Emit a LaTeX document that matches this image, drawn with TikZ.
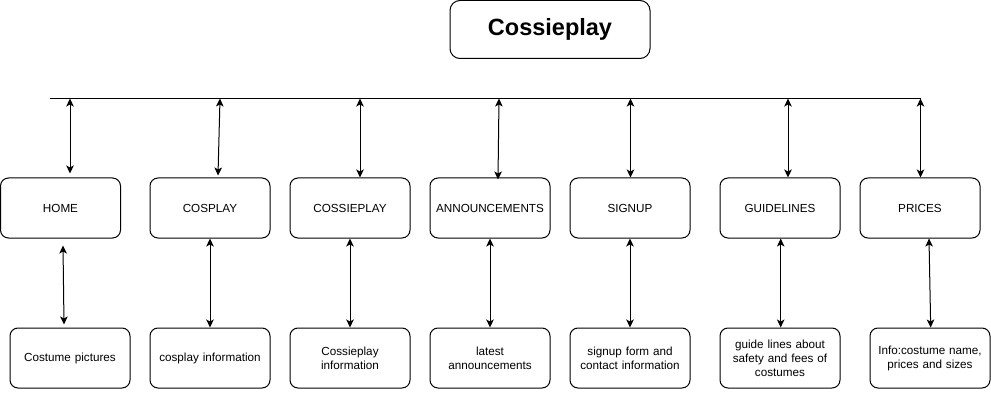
\documentclass[tikz,border=0pt]{standalone}
\usepackage{fontspec}
\setmainfont{Liberation Sans}
\usetikzlibrary{arrows.meta}
\begin{document}
\begin{tikzpicture}[x=1pt,y=-1pt,
  box/.style={draw, rounded corners=8pt, line width=1pt, minimum width=120pt, minimum height=60pt,
    inner sep=2pt, text width=116pt, align=center, font=\fontsize{11.7}{14}\selectfont},
  titlebox/.style={draw, rounded corners=10pt, line width=1pt, minimum width=200pt, minimum height=58pt,
    font=\fontsize{23.5}{28}\selectfont\bfseries},
  conn/.style={line width=1pt, {Stealth[length=8pt,width=7.5pt,inset=2pt]}-{Stealth[length=8pt,width=7.5pt,inset=2pt]}},
  bus/.style={line width=1pt}]
\useasboundingbox (0,0) rectangle (991,417);

\node[titlebox] (title) at (550,29.5) {Cossieplay};

\coordinate (busL) at (50,98.5);
\coordinate (busR) at (921,98.5);
\draw[bus] (busL) -- (busR);

% top row
\node[box] (home) at (60.5,208) {HOME};
\node[box] (cosplay) at (210,208) {COSPLAY};
\node[box] (cossie) at (350,208) {COSSIEPLAY};
\node[box] (ann) at (490,208) {ANNOUNCEMENTS};
\node[box] (signup) at (630,208) {SIGNUP};
\node[box] (guide) at (780,208) {GUIDELINES};
\node[box] (prices) at (920,208) {PRICES};

% bottom row
\node[box] (costpic) at (70,358) {Costume pictures};
\node[box] (cosinfo) at (210,358) {cosplay information};
\node[box] (cossinfo) at (350,358) {Cossieplay\\information};
\node[box] (latest) at (490,358) {latest\\announcements};
\node[box] (form) at (630,358) {signup form and\\contact information};
\node[box] (safety) at (780,358) {guide lines about\\safety and fees of\\costumes};
\node[box] (info) at (930,358) {Info:costume name,\\prices and sizes};

% bus taps
\coordinate (t1) at (70,98.5);
\coordinate (t2) at (220,98.5);
\coordinate (t3) at (360,98.5);
\coordinate (t4) at (499,98.5);
\coordinate (t5) at (630.5,98.5);
\coordinate (t6) at (788,98.5);
\coordinate (t7) at (920.5,98.5);

\draw[conn] (t1) -- ([xshift=9.5pt,yshift=4pt]home.north);
\draw[conn] (t2) -- ([xshift=8pt,yshift=2pt]cosplay.north);
\draw[conn] (t3) -- ([xshift=10pt]cossie.north);
\draw[conn] (t4) -- ([xshift=8pt,yshift=-2pt]ann.north);
\draw[conn] (t5) -- ([xshift=0.5pt]signup.north);
\draw[conn] (t6) -- ([xshift=8pt]guide.north);
\draw[conn] (t7) -- ([xshift=0.5pt]prices.north);

% down connectors
\draw[conn] ([xshift=2.5pt,yshift=-7pt]home.south) -- ([xshift=-6pt,yshift=3pt]costpic.north);
\draw[conn] (cosplay.south) -- (cosinfo.north);
\draw[conn] (cossie.south) -- (cossinfo.north);
\draw[conn] (ann.south) -- (latest.north);
\draw[conn] (signup.south) -- (form.north);
\draw[conn] ([xshift=0.7pt]guide.south) -- ([xshift=0.7pt]safety.north);
\draw[conn] ([xshift=9pt]prices.south) -- ([xshift=0.7pt]info.north);
\end{tikzpicture}
\end{document}
